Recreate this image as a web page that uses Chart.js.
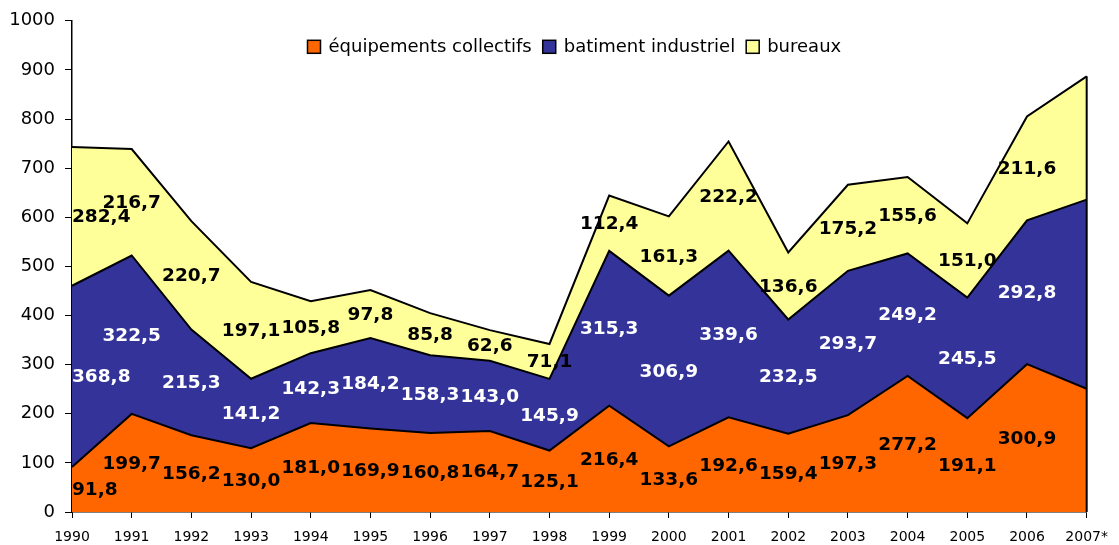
<!DOCTYPE html>
<html><head><meta charset="utf-8">
<script src="https://cdn.jsdelivr.net/npm/chart.js@4/dist/chart.umd.min.js"></script>
<style>html,body{margin:0;padding:0;background:#fff}canvas{display:block}</style>
</head><body>
<canvas id="c" width="1119" height="545"></canvas>
<script>
const years = ['1990','1991','1992','1993','1994','1995','1996','1997','1998','1999','2000','2001','2002','2003','2004','2005','2006','2007*'];
const equipements = [91.8,199.7,156.2,130.0,181.0,169.9,160.8,164.7,125.1,216.4,133.6,192.6,159.4,197.3,277.2,191.1,300.9,251];
const batiment    = [368.8,322.5,215.3,141.2,142.3,184.2,158.3,143.0,145.9,315.3,306.9,339.6,232.5,293.7,249.2,245.5,292.8,385];
const bureaux     = [282.4,216.7,220.7,197.1,105.8,97.8,85.8,62.6,71.1,112.4,161.3,222.2,136.6,175.2,155.6,151.0,211.6,251];
const seriesNames = ['équipements collectifs', 'batiment industriel', 'bureaux'];
const unlabelledYears = ['2007*'];
const yTicks = [0,100,200,300,400,500,600,700,800,900,1000];

const FONT = 'Verdana, "DejaVu Sans", sans-serif';

// legend drawn inside the plot area, at its top, from the chart's datasets
const areaLegend = {
  id: 'areaLegend',
  afterDraw(chart) {
    const ctx = chart.ctx, a = chart.chartArea;
    const ds = chart.data.datasets;
    ctx.save();
    ctx.font = '18px ' + FONT;
    ctx.textBaseline = 'middle';
    ctx.textAlign = 'left';
    const box = 13, gapText = 8, gapItem = 11;
    const widths = ds.map(d => ctx.measureText(d.label).width);
    const total = widths.reduce((s, w) => s + w, 0) + ds.length * (box + gapText) + (ds.length - 1) * gapItem;
    let x = (a.left + a.right) / 2 - 5 - total / 2;
    const cy = a.top + 26;
    ds.forEach((d, i) => {
      ctx.fillStyle = d.backgroundColor;
      ctx.fillRect(x, cy - box / 2, box, box);
      ctx.strokeStyle = '#000'; ctx.lineWidth = 1.5;
      ctx.strokeRect(x, cy - box / 2, box, box);
      x += box + gapText;
      ctx.fillStyle = '#000';
      ctx.fillText(d.label, x, cy + 1);
      x += widths[i] + gapItem;
    });
    ctx.restore();
  }
};

const valueLabels = {
  id: 'valueLabels',
  afterDatasetsDraw(chart) {
    const ctx = chart.ctx, xs = chart.scales.x, ys = chart.scales.y, a = chart.chartArea;
    const series = chart.data.datasets;
    const colors = ['#000000', '#ffffff', '#000000'];
    ctx.save();
    // right edge outline of the stacked areas
    const last = years.length - 1;
    let top = 0; series.forEach(d => top += d.data[last]);
    ctx.strokeStyle = '#000'; ctx.lineWidth = 2;
    ctx.beginPath();
    ctx.moveTo(xs.getPixelForValue(last), ys.getPixelForValue(0));
    ctx.lineTo(xs.getPixelForValue(last), ys.getPixelForValue(top));
    ctx.stroke();
    ctx.font = 'bold 18.5px ' + FONT;
    ctx.textBaseline = 'middle';
    ctx.textAlign = 'center';
    years.forEach((yr, j) => {
      if (unlabelledYears.includes(yr)) return;
      let base = 0;
      series.forEach((d, i) => {
        const v = d.data[j];
        const txt = v.toFixed(1).replace('.', ',');
        const w = ctx.measureText(txt).width;
        let x = xs.getPixelForValue(j);
        if (x - w / 2 < a.left) x = a.left + w / 2;
        if (x + w / 2 > a.right) x = a.right - w / 2;
        const y = ys.getPixelForValue(base + v / 2);
        ctx.fillStyle = colors[i];
        ctx.fillText(txt, x, y + 1);
        base += v;
      });
    });
    ctx.restore();
  }
};

new Chart(document.getElementById('c'), {
  type: 'line',
  data: {
    labels: years,
    datasets: [
      { label: seriesNames[0], data: equipements, backgroundColor: '#FF6600', borderColor: '#000', borderWidth: 2, fill: 'origin', pointRadius: 0, tension: 0 },
      { label: seriesNames[1], data: batiment, backgroundColor: '#333399', borderColor: '#000', borderWidth: 2, fill: '-1', pointRadius: 0, tension: 0 },
      { label: seriesNames[2], data: bureaux, backgroundColor: '#FFFF99', borderColor: '#000', borderWidth: 2, fill: '-1', pointRadius: 0, tension: 0 }
    ]
  },
  options: {
    responsive: false,
    animation: false,
    devicePixelRatio: 1,
    layout: { padding: { left: 0, right: 28, top: 18, bottom: 0 } },
    plugins: {
      legend: { display: false },
      tooltip: { enabled: false },
      filler: { propagate: false }
    },
    scales: {
      x: {
        offset: false,
        grid: { display: true, drawOnChartArea: false, drawTicks: true, tickLength: 6, color: '#000', lineWidth: 1 },
        border: { display: true, color: '#000', width: 1.5 },
        ticks: { color: '#000', padding: 11, maxRotation: 0, autoSkip: false, font: { family: FONT, size: 14 } },
        afterFit(s) { s.height = 33; }
      },
      y: {
        stacked: true,
        min: 0, max: 1000,
        afterBuildTicks(s) { s.ticks = yTicks.map(v => ({ value: v })); },
        grid: { display: true, drawOnChartArea: false, drawTicks: true, tickLength: 7, color: '#000', lineWidth: 1 },
        border: { display: true, color: '#000', width: 1.5 },
        ticks: { color: '#000', padding: 10, font: { family: FONT, size: 18 }, callback: v => String(v) },
        afterFit(s) { s.width = 72; }
      }
    }
  },
  plugins: [areaLegend, valueLabels]
});
</script>
</body></html>
